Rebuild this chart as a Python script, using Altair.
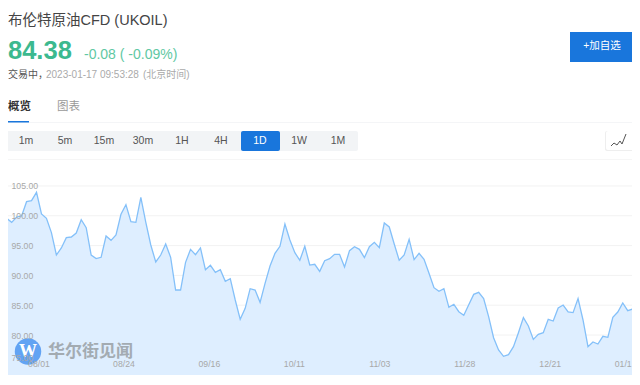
import altair as alt
import pandas as pd

prices = [99.57,98.90,99.80,99.97,102.37,102.54,103.94,100.30,99.57,97.17,93.42,94.60,96.33,96.44,97.11,99.35,98.01,93.42,92.81,93.03,96.61,95.88,96.78,100.25,101.87,99.02,98.90,103.10,98.90,95.10,92.25,93.42,95.27,93.03,87.55,87.55,92.19,94.37,93.48,94.60,90.96,91.69,90.51,90.96,
89.0,89.45,85.87,82.63,84.47,87.77,87.55,85.48,88.67,91.58,93.70,94.88,98.62,95.94,93.81,92.53,94.88,91.74,91.86,90.68,92.47,92.81,93.53,93.53,91.41,94.15,94.82,94.37,92.98,94.82,95.55,94.65,98.79,98.12,95.27,92.53,93.42,96.05,92.64,93.70,92.70,90.35,
87.94,87.33,87.77,84.64,85.15,83.91,83.30,85.09,86.82,87.16,86.10,83.08,79.55,77.48,76.42,76.70,78.04,80.39,82.91,81.51,79.27,80.11,80.39,82.63,82.35,84.53,85.03,83.86,83.75,86.10,82.52,78.04,78.83,78.49,79.78,79.61,82.96,83.86,85.37,84.08,84.36]
date_labels = ["08/01","08/24","09/16","10/11","11/03","11/28","12/21","01/1"]
date_ticks = [6.4,23.5,40.7,57.8,75.0,92.1,109.3,126.0]
y_ticks = [75,80,85,90,95,100,105]
periods = ["1m","5m","15m","30m","1H","4H","1D","1W","1M"]
period_x = [18,57,96,135,174,213,252,291,330]

n = len(prices)
df = pd.DataFrame({"i": list(range(n)), "price": prices})
Y_MIN = 73.29
xs = alt.Scale(domain=[0, n-1], range=[-1.3, 624.7])
ys = alt.Scale(domain=[Y_MIN, 109.36], range=[367, 152])
SANS = "Liberation Sans, Noto Sans CJK SC"
lblexpr = "[" + ",".join(f"'{l}'" for l in date_labels) + "][indexof([" + ",".join(str(t) for t in date_ticks) + "],datum.value)]"

y_axis = alt.Axis(values=y_ticks, format=".2f", orient="left", offset=-3, domain=False, ticks=False, title=None,
                  grid=False, labelPadding=0, labelColor="#a8a8a8", labelFontSize=8.7, labelFont=SANS, labelAlign="left",
                  labelOffset={"condition": {"test": "datum.value == 75", "value": -7}, "value": 0},
                  labelOverlap=False, labelBound=False, zindex=1)
x_axis = alt.Axis(values=date_ticks, labelExpr=lblexpr, orient="bottom", offset=-18, domain=False, ticks=False, title=None,
                  grid=False, labelPadding=0, labelColor="#a8a8a8", labelFontSize=8.7, labelFont=SANS,
                  labelOffset={"condition": {"test": "datum.value > 120", "value": -10}, "value": 0},
                  labelOverlap=False, labelFlush=False, labelBound=False, zindex=1)

base = alt.Chart(df)
grid = alt.Chart(pd.DataFrame({"v": y_ticks[1:]})).mark_rule(color="#f2f2f2", strokeWidth=1).encode(
    y=alt.Y("v:Q", scale=ys, axis=y_axis), x=alt.value(-1), x2=alt.value(628))
area = base.mark_area(color="#deeeff", opacity=1).encode(
    x=alt.X("i:Q", scale=xs, axis=x_axis),
    y=alt.Y("price:Q", scale=ys, axis=y_axis),
    y2=alt.Y2(datum=Y_MIN))
line = base.mark_line(color="#84c0f9", strokeWidth=1.3).encode(
    x=alt.X("i:Q", scale=xs, axis=x_axis), y=alt.Y("price:Q", scale=ys, axis=y_axis))

def box(x1, x2, y1, y2, color, radius=0, **kw):
    return alt.Chart(pd.DataFrame({"a": [0]})).mark_rect(color=color, cornerRadius=radius, **kw).encode(
        x=alt.value(x1), x2=alt.value(x2), y=alt.value(y1), y2=alt.value(y2))

def txt(s, x, y, size, color, weight="normal", align="left", font=SANS, **kw):
    return alt.Chart(pd.DataFrame({"t": [s]})).mark_text(fontSize=size, color=color, fontWeight=weight, align=align,
            baseline="middle", font=font, **kw).encode(text="t:N", x=alt.value(x), y=alt.value(y))

def seg(x1, y1, x2, y2, color="#555555", w=1):
    return alt.Chart(pd.DataFrame({"a": [0]})).mark_rule(color=color, strokeWidth=w).encode(
        x=alt.value(x1), x2=alt.value(x2), y=alt.value(y1), y2=alt.value(y2))

chrome = [
    txt("布伦特原油CFD  (UKOIL)", 0, 13, 14.5, "#444444"),
    txt("84.38", 0, 43, 25.5, "#3cb98f", "bold"),
    txt("-0.08 ( -0.09%)", 76, 47, 14, "#5fc8a3"),
    txt("交易中，", 0, 67, 10, "#555555"),
    txt("2023-01-17 09:53:28", 38, 67, 10, "#aaaaaa"),
    txt("(北京时间)", 135, 67, 10, "#aaaaaa"),
    txt("概览", 0, 99, 11.5, "#333333", "bold"),
    txt("图表", 49, 99, 11.5, "#999999"),
    box(-1, 628, 114, 115, "#f4f5f7"),
    box(-2, 21, 113, 114.5, "#1976dc"),
    box(562, 626, 24, 54, "#1976dc"),
    txt("+加自选", 594, 38, 10.5, "#ffffff", align="center"),
    box(-2, 350, 123, 143, "#f2f4f6", 2),
    box(233, 272, 123, 143, "#1976dc", 2),
    box(-2, 628, 151, 152, "#f6f6f6"),
    box(597, 626, 123, 143, "#eeeeee", 2),
    box(598, 626, 123, 142, "#ffffff", 2),
    seg(603, 138, 606, 135), seg(606, 135, 609, 137), seg(609, 137, 612, 133),
    seg(612, 133, 614, 136), seg(614, 136, 618, 126),
]
for p, x in zip(periods, period_x):
    chrome.append(txt(p, x, 133, 10.5, "#ffffff" if p == "1D" else "#555555", align="center"))

circle = alt.Chart(pd.DataFrame({"a": [0]})).mark_point(filled=True, color="#5b9ef2", opacity=0.95, size=700).encode(
    x=alt.value(20), y=alt.value(343.5))
wm = [circle,
      txt("W", 20, 343.5, 18, "#ffffff", "bold", align="center", font="Liberation Serif"),
      txt("华尔街见闻", 40, 343.5, 17, "#a3abb2", "bold", font="Noto Sans CJK SC")]

chart = alt.layer(grid, area, line, *chrome, *wm).properties(
    width=624, height=369, padding=0,
    autosize=alt.AutoSizeParams(type="none", contains="content"),
    background="#ffffff").configure_view(stroke=None)
chart.save("out.html", embed_options={"renderer": "svg", "actions": False})
